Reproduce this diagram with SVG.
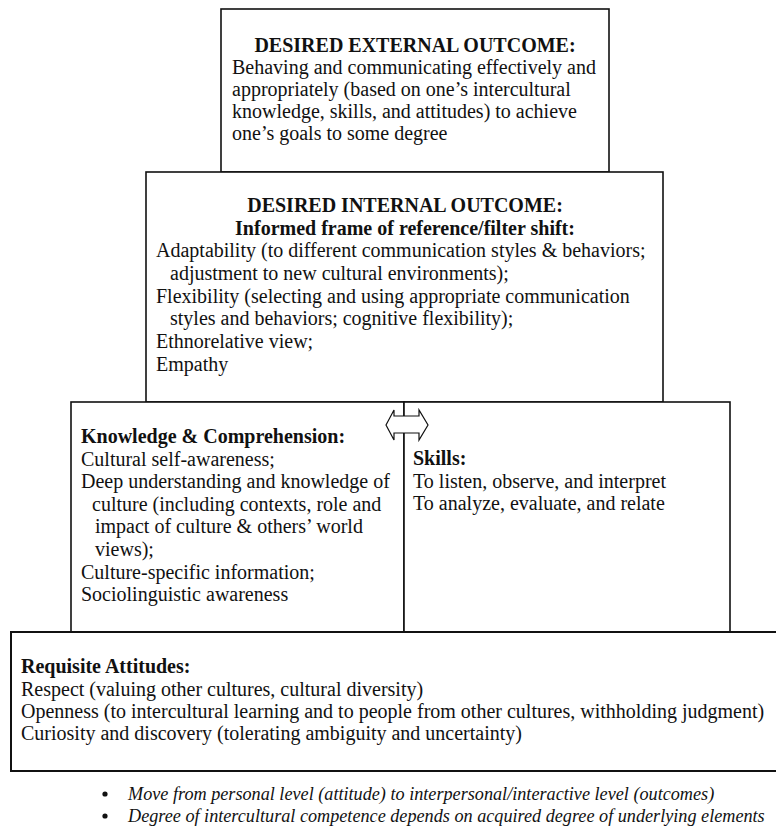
<svg xmlns="http://www.w3.org/2000/svg" width="776" height="826" viewBox="0 0 776 826">
<style>
.box{fill:#fff;stroke:#111;stroke-width:1.6}
.t{font-family:"Liberation Serif","Times New Roman",serif;font-size:20px;fill:#111}
.b{font-weight:bold}
.c{text-anchor:middle}
.i{font-style:italic;font-size:18.2px}
</style>
<rect width="776" height="826" fill="#fff"/>
<g id="external-outcome">
<rect class="box" x="221" y="9" width="388" height="163"/>
<text class="t b c" x="415" y="52">DESIRED EXTERNAL OUTCOME:</text>
<text class="t" x="232" y="74">Behaving and communicating effectively and</text>
<text class="t" x="232" y="96">appropriately (based on one’s intercultural</text>
<text class="t" x="232" y="118">knowledge, skills, and attitudes) to achieve</text>
<text class="t" x="232" y="140">one’s goals to some degree</text>
</g>
<g id="internal-outcome">
<rect class="box" x="146" y="172" width="517" height="230"/>
<text class="t b c" x="405" y="212">DESIRED INTERNAL OUTCOME:</text>
<text class="t b c" x="405" y="235">Informed frame of reference/filter shift:</text>
<text class="t" x="156" y="257">Adaptability (to different communication styles &amp; behaviors;</text>
<text class="t" x="170" y="280">adjustment to new cultural environments);</text>
<text class="t" x="156" y="303">Flexibility (selecting and using appropriate communication</text>
<text class="t" x="170" y="325">styles and behaviors; cognitive flexibility);</text>
<text class="t" x="156" y="348">Ethnorelative view;</text>
<text class="t" x="156" y="371">Empathy</text>
</g>
<g id="knowledge">
<rect class="box" x="71" y="402" width="333" height="230"/>
<text class="t b" x="81" y="443">Knowledge &amp; Comprehension:</text>
<text class="t" x="81" y="466">Cultural self-awareness;</text>
<text class="t" x="81" y="488">Deep understanding and knowledge of</text>
<text class="t" x="92" y="511">culture (including contexts, role and</text>
<text class="t" x="95" y="533">impact of culture &amp; others’ world</text>
<text class="t" x="95" y="556">views);</text>
<text class="t" x="81" y="579">Culture-specific information;</text>
<text class="t" x="81" y="601">Sociolinguistic awareness</text>
</g>
<g id="skills">
<rect class="box" x="404" y="402" width="326" height="230"/>
<text class="t b" x="413" y="465">Skills:</text>
<text class="t" x="413" y="488">To listen, observe, and interpret</text>
<text class="t" x="413" y="510">To analyze, evaluate, and relate</text>
</g>
<g id="attitudes">
<rect class="box" x="11" y="632" width="790" height="139" style="stroke-width:2"/>
<text class="t b" x="21" y="673">Requisite Attitudes:</text>
<text class="t" x="21" y="696">Respect (valuing other cultures, cultural diversity)</text>
<text class="t" x="21" y="718">Openness (to intercultural learning and to people from other cultures, withholding judgment)</text>
<text class="t" x="21" y="740">Curiosity and discovery (tolerating ambiguity and uncertainty)</text>
</g>
<g id="connectors">
<polygon points="386,425 394,410 394,416 419,416 419,410 428,425 419,440 419,433 394,433 394,440" fill="#fff" stroke="#111" stroke-width="1.2" stroke-linejoin="miter"/>
</g>
<g id="notes">
<circle cx="105" cy="794" r="2.6" fill="#111"/>
<circle cx="105" cy="816" r="2.6" fill="#111"/>
<text class="t i" x="128" y="800">Move from personal level (attitude) to interpersonal/interactive level (outcomes)</text>
<text class="t i" x="128" y="822">Degree of intercultural competence depends on acquired degree of underlying elements</text>
</g>
</svg>
